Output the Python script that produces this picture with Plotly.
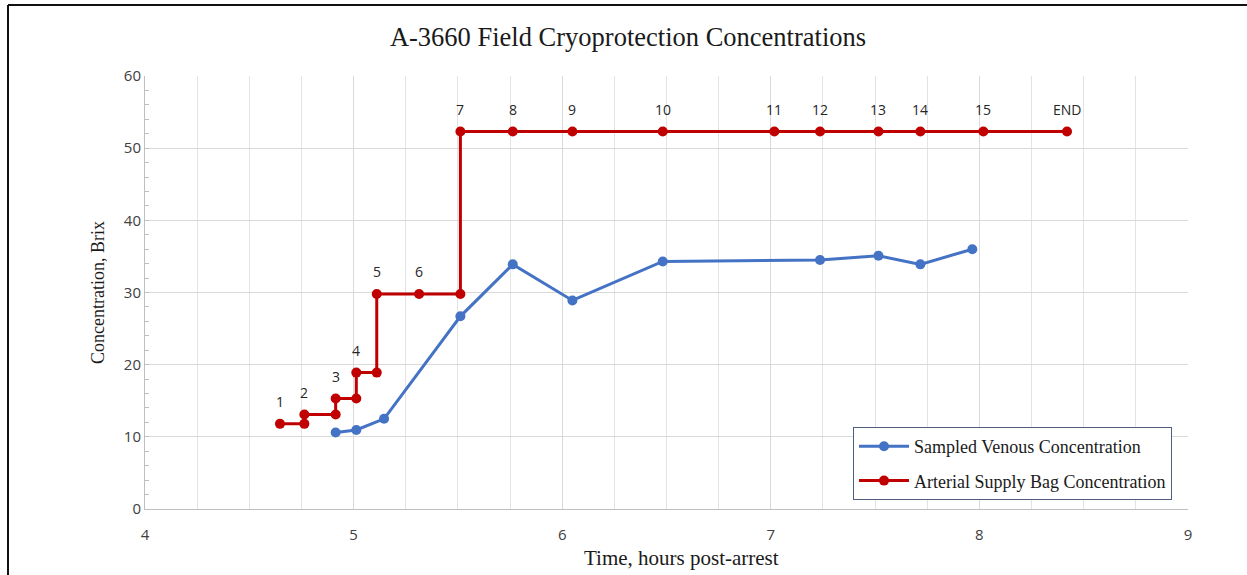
import plotly.graph_objects as go

# Sampled venous concentration
venous_t = [4.914, 5.013, 5.146, 5.512, 5.763, 6.049, 6.482, 7.236, 7.516, 7.717, 7.966]
venous_c = [10.6, 10.95, 12.5, 26.7, 33.9, 28.9, 34.3, 34.5, 35.1, 33.9, 36.0]

# Arterial supply bag concentration (step profile)
arterial_t = [4.647, 4.764, 4.764, 4.914, 4.914, 5.013, 5.013, 5.111, 5.111, 5.314, 5.512,
              5.512, 5.763, 6.049, 6.482, 7.017, 7.236, 7.516, 7.717, 8.019, 8.42]
arterial_c = [11.8, 11.8, 13.1, 13.1, 15.3, 15.3, 18.9, 18.9, 29.8, 29.8, 29.8,
              52.3, 52.3, 52.3, 52.3, 52.3, 52.3, 52.3, 52.3, 52.3, 52.3]
arterial_labels = ["1", "", "2", "", "3", "", "4", "", "5", "6", "",
                   "7", "8", "9", "10", "11", "12", "13", "14", "15", "END"]

title_text = "A-3660 Field Cryoprotection Concentrations"
x_title = "Time, hours post-arrest"
y_title = "Concentration, Brix"

BLUE = "#4472C4"
RED = "#C00000"
SERIF = "Liberation Serif, Times New Roman, serif"
SANS = "Open Sans, Liberation Sans, Arial, sans-serif"

fig = go.Figure()
fig.add_trace(go.Scatter(
    x=venous_t, y=venous_c, mode="lines+markers",
    name="Sampled Venous Concentration", legendgroup="a",
    line=dict(color=BLUE, width=3), marker=dict(color=BLUE, size=10),
))
fig.add_trace(go.Scatter(
    x=arterial_t, y=arterial_c, mode="lines+markers",
    name="Arterial Supply Bag Concentration", legendgroup="b",
    line=dict(color=RED, width=3), marker=dict(color=RED, size=10),
))

# step number labels above the arterial points
for t, c, lab in zip(arterial_t, arterial_c, arterial_labels):
    if lab:
        fig.add_annotation(x=t, y=c, text=lab, showarrow=False, yshift=22,
                           xanchor="center", yanchor="middle",
                           font=dict(family=SANS, size=14, color="#262626"))

# x-axis title as annotation (to match offset)
fig.add_annotation(x=(681-145)/1043, y=(509-558)/433, xref="paper", yref="paper",
                   text=x_title, showarrow=False, xanchor="center", yanchor="middle",
                   font=dict(family=SERIF, size=21, color="#1a1a1a"))

fig.update_layout(
    width=1247, height=575,
    margin=dict(l=145, r=59, t=76, b=66),
    paper_bgcolor="white", plot_bgcolor="white",
    title=dict(text=title_text, x=628/1247, xref="container", xanchor="center",
               y=1-37/575, yref="container", yanchor="middle",
               font=dict(family=SERIF, size=26.5, color="#1a1a1a")),
    xaxis=dict(range=[4, 9], dtick=1, tick0=4, showgrid=True, gridcolor="#d9d9d9",
               minor=dict(dtick=0.25, showgrid=True, gridcolor="#e3e3e3"),
               showline=True, linecolor="#bfbfbf", zeroline=False, ticks="",
               ticklabelstandoff=12,
               tickfont=dict(family=SANS, size=15, color="#404040")),
    yaxis=dict(range=[0, 60], dtick=10, showgrid=True, gridcolor="#d9d9d9",
               showline=True, linecolor="#bfbfbf", zeroline=False,
               ticks="inside", ticklen=4, tickcolor="#bfbfbf",
               minor=dict(dtick=2, ticks="inside", ticklen=4, tickcolor="#bfbfbf", showgrid=False),
               tickfont=dict(family=SANS, size=15, color="#404040"),
               title=dict(text=y_title, font=dict(family=SERIF, size=18, color="#1a1a1a"), standoff=14)),
    legend=dict(x=(853-145)/1043, y=(509-427)/433, xanchor="left", yanchor="top",
                bgcolor="white", bordercolor="#4f5f7f", borderwidth=1,
                font=dict(family=SERIF, size=18, color="#1a1a1a"),
                traceorder="grouped", tracegroupgap=8, itemwidth=50),
    showlegend=True,
)

# outer chart border (top and left)
fig.add_shape(type="line", xref="paper", yref="paper",
              x0=(8-145)/1043, x1=(1247-145)/1043, y0=(509-5)/433, y1=(509-5)/433,
              line=dict(color="#111111", width=2))
fig.add_shape(type="line", xref="paper", yref="paper",
              x0=(8-145)/1043, x1=(8-145)/1043, y0=(509-5)/433, y1=(509-580)/433,
              line=dict(color="#111111", width=2))

fig.write_html("out.html")
